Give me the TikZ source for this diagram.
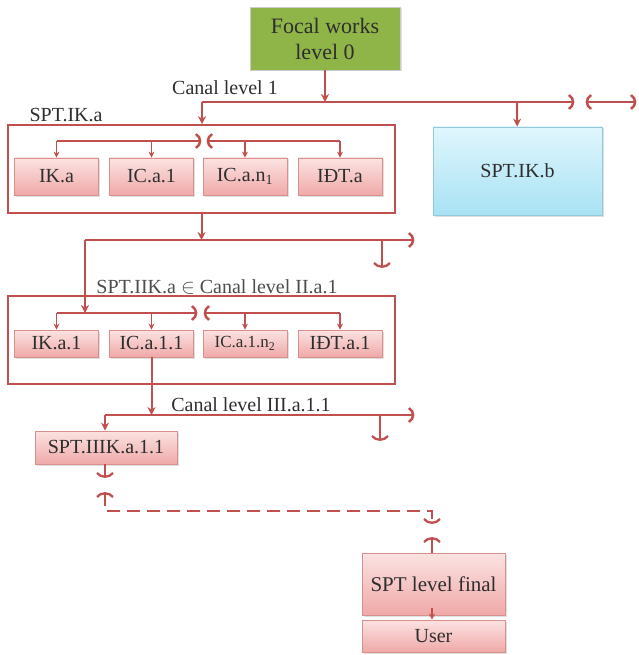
\documentclass[tikz,border=0pt]{standalone}
\usepackage{fontspec}
\setmainfont{Liberation Serif}
\usetikzlibrary{arrows.meta,shadows}
\definecolor{cred}{HTML}{C0504D}
\definecolor{txt}{HTML}{2E2E2E}
\definecolor{pinktop}{HTML}{FBE3E2}
\definecolor{pinkbot}{HTML}{EFA9A8}
\definecolor{pinkedge}{HTML}{D8908E}
\definecolor{bluetop}{HTML}{E0F6FC}
\definecolor{bluebot}{HTML}{A8E2F4}
\definecolor{blueedge}{HTML}{93C9D9}
\definecolor{focalgreen}{HTML}{8FB548}
\newcommand\myfs[1]{\fontsize{#1}{#1}\selectfont}
\newcommand\rbr[2]{\draw[ln, line width=2.5pt] (#1-3,#2-7) .. controls (#1+2.5,#2-3) and (#1+2.5,#2+3) .. (#1-3,#2+7);}
\newcommand\lbr[2]{\draw[ln, line width=2.5pt] (#1+3,#2-7) .. controls (#1-2.5,#2-3) and (#1-2.5,#2+3) .. (#1+3,#2+7);}
\newcommand\smilecap[2]{\draw[ln, line width=2.3pt] (#1-8,#2-4) .. controls (#1-4,#2+1) and (#1+4,#2+1) .. (#1+8,#2-4);}
\newcommand\frowncap[2]{\draw[ln, line width=2.3pt] (#1-8,#2+4) .. controls (#1-4,#2-1) and (#1+4,#2-1) .. (#1+8,#2+4);}
\tikzset{
  ln/.style={draw=cred, line width=2pt},
  arr/.style={ln, -{Stealth[length=8pt,width=8pt]}},
  arrsm/.style={ln, line width=1.6pt, -{Stealth[length=6pt,width=6pt]}},
  frame/.style={draw=cred, line width=1.6pt, inner sep=0pt},
  lbl/.style={font=\myfs{20}, text=txt, inner sep=0pt},
  pinkbox/.style={draw=pinkedge, line width=0.8pt, top color=pinktop, bottom color=pinkbot,
     minimum width=84pt, minimum height=37pt, inner sep=0pt, font=\myfs{20}, text=txt,
     drop shadow={opacity=0.25, shadow xshift=1.5pt, shadow yshift=-1.5pt}},
  bluebox/.style={draw=blueedge, line width=0.8pt, top color=bluetop, bottom color=bluebot,
     minimum width=169pt, minimum height=88pt, inner sep=0pt, font=\myfs{20}, text=txt,
     drop shadow={opacity=0.25, shadow xshift=1.5pt, shadow yshift=-1.5pt}},
  focalbox/.style={draw=black!20, line width=0.8pt, fill=focalgreen,
     minimum width=150pt, minimum height=63pt, inner sep=0pt, align=center,
     font=\fontsize{22}{26}\selectfont, text=txt,
     drop shadow={opacity=0.25, shadow xshift=1.5pt, shadow yshift=-1.5pt}},
}
\begin{document}
\begin{tikzpicture}[x=1pt,y=-1pt]
\useasboundingbox (0,0) rectangle (638,655);
% ---------- level 0 ----------
\node[focalbox] (focal) at (325,38.5) {Focal works\\level 0};
% ---------- canal level 1 ----------
\coordinate (c1a) at (202,102);
\coordinate (c1f) at (325,102);
\coordinate (c1b) at (517,102);
\coordinate (c1e) at (572,102);
\coordinate (c1g) at (588,102);
\coordinate (c1h) at (634,102);
\node[lbl] (canal1) at (225,88) {Canal level 1};
\draw[ln] (c1a) -- (c1e);
\rbr{572}{102}
\lbr{588}{102}
\draw[ln] (c1g) -- (c1h);
\rbr{634}{102}
\draw[arr] (focal) -- (c1f);
% ---------- SPT.IK.a ----------
\node[frame, minimum width=387pt, minimum height=88pt] (spta) at (201.5,169) {};
\node[lbl] (sptalbl) at (66,115) {SPT.IK.a};
\draw[arr] (c1a) -- (c1a |- spta.north);
\node[bluebox] (sptb) at (517.5,171) {SPT.IK.b};
\draw[arr] (c1b) -- (sptb);
\node[pinkbox] (ika) at (56.5,176.5) {IK.a};
\node[pinkbox] (ica1) at (151.5,176.5) {IC.a.1};
\node[pinkbox] (ican) at (245,176.5) {IC.a.n\textsubscript{1}};
\node[pinkbox] (idta) at (340,176.5) {IĐT.a};
\coordinate (i1) at (199,141);
\coordinate (i2) at (209,141);
\draw[ln] (ika.north |- i1) -- (i1);
\rbr{199}{141}
\lbr{209}{141}
\draw[ln] (i2) -- (idta.north |- i2);
\draw[arrsm] (ika.north |- i1) -- (ika);
\draw[arrsm] (ica1.north |- i1) -- (ica1);
\draw[arrsm] (ican.north |- i1) -- (ican);
\draw[arrsm] (idta.north |- i1) -- (idta);
% ---------- canal level 2 ----------
\coordinate (c2a) at (201.5,240);
\coordinate (c2l) at (85,240);
\coordinate (c2r) at (412,240);
\coordinate (c2b) at (382,240);
\coordinate (c2c) at (382,267);
\draw[arr] (spta) -- (c2a);
\draw[ln] (c2l) -- (c2r);
\rbr{412}{240}
\draw[ln] (c2b) -- (c2c);
\smilecap{382}{267}
% ---------- SPT.IIK.a ----------
\node[frame, minimum width=387pt, minimum height=88pt] (sptiia) at (201.5,340) {};
\node[lbl, anchor=base, text=txt!85] (sptiialbl) at (217,293) {SPT.IIK.a $\in$ Canal level II.a.1};
\coordinate (j2) at (85,313);
\draw[arr] (c2l) -- (j2);
\tikzset{pinkbox/.append style={minimum height=27pt}}
\node[pinkbox] (ika1) at (56.5,343.5) {IK.a.1};
\node[pinkbox] (ica11) at (151.5,343.5) {IC.a.1.1};
\node[pinkbox, font=\myfs{17}] (ica1n) at (245,343.5) {IC.a.1.n\textsubscript{2}};
\node[pinkbox] (idta1) at (340,343.5) {IĐT.a.1};
\coordinate (k1) at (195,313);
\coordinate (k2) at (206,313);
\draw[ln] (ika1.north |- k1) -- (k1);
\rbr{195}{313}
\lbr{206}{313}
\draw[ln] (k2) -- (idta1.north |- k2);
\draw[arrsm] (ika1.north |- k1) -- (ika1);
\draw[arrsm] (ica11.north |- k1) -- (ica11);
\draw[arrsm] (ica1n.north |- k1) -- (ica1n);
\draw[arrsm] (idta1.north |- k1) -- (idta1);
% ---------- canal level 3 ----------
\coordinate (c3a) at (151.5,415);
\coordinate (c3l) at (105,415);
\coordinate (c3r) at (412,415);
\coordinate (c3b) at (380,415);
\coordinate (c3c) at (380,440);
\node[lbl] (canal3) at (251,405) {Canal level III.a.1.1};
\draw[arr] (ica11) -- (c3a);
\draw[ln] (c3l) -- (c3r);
\rbr{412}{415}
\draw[ln] (c3b) -- (c3c);
\smilecap{380}{440}
\node[pinkbox, minimum width=142pt, minimum height=33pt] (sptiii) at (106,447.5) {SPT.IIIK.a.1.1};
\draw[arr] (c3l) -- (c3l |- sptiii.north);
% ---------- to final ----------
\coordinate (d1) at (105,477);
\coordinate (d2) at (105,493);
\coordinate (d3) at (105,511);
\coordinate (d4) at (432,511);
\coordinate (d5) at (432,523);
\coordinate (d6) at (432,538);
\draw[ln] (d1 |- sptiii.south) -- (d1);
\smilecap{105}{477}
\frowncap{105}{493}
\draw[ln, dash pattern=on 13pt off 7pt] (d2) -- (d3) -- (d4) -- (d5);
\smilecap{432}{523}
\frowncap{432}{538}
\node[pinkbox, minimum width=143pt, minimum height=62pt, font=\myfs{21}] (fin) at (433.5,584) {SPT level final};
\node[pinkbox, minimum width=143pt, minimum height=32pt] (user) at (433.5,636) {User};
\draw[ln] (d6) -- (d6 |- fin.north);
\draw[arrsm] ([yshift=7pt]d6 |- fin.south) -- (d6 |- user.north);
\end{tikzpicture}
\end{document}
